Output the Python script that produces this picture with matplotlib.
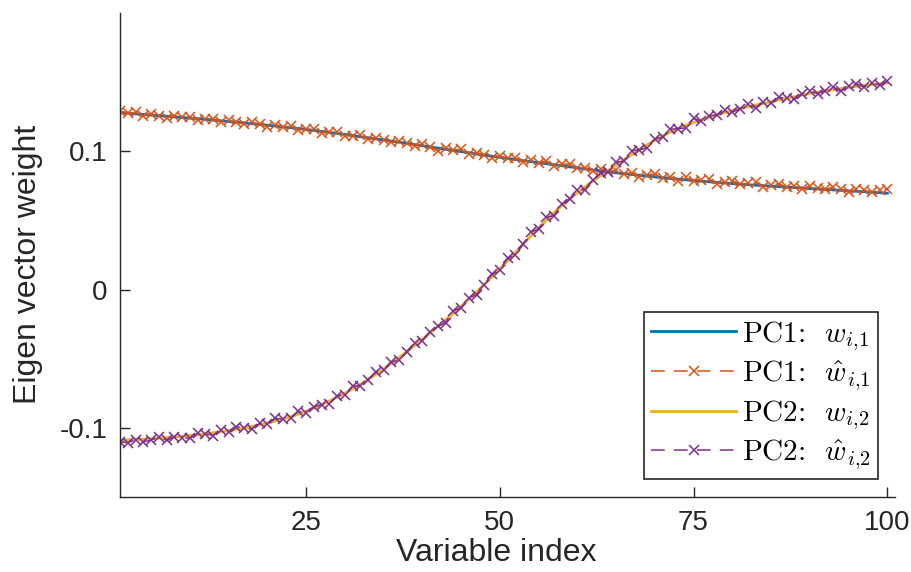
import matplotlib
matplotlib.use("Agg")
import matplotlib.pyplot as plt
import numpy as np

plt.rcParams['mathtext.fontset'] = 'cm'
plt.rcParams['font.family'] = ['Liberation Sans', 'DejaVu Sans']

# variable index 1..100
idx = list(range(1, 101))

# PC1 eigenvector weights (true)
pc1_w = [
    0.1280, 0.1276, 0.1271, 0.1267, 0.1262, 0.1258, 0.1254, 0.1249, 0.1245, 0.1240,
    0.1236, 0.1231, 0.1226, 0.1221, 0.1216, 0.1211, 0.1206, 0.1200, 0.1195, 0.1189,
    0.1183, 0.1177, 0.1171, 0.1165, 0.1158, 0.1151, 0.1144, 0.1137, 0.1130, 0.1122,
    0.1114, 0.1106, 0.1098, 0.1090, 0.1082, 0.1074, 0.1066, 0.1058, 0.1049, 0.1041,
    0.1032, 0.1024, 0.1015, 0.1007, 0.0998, 0.0990, 0.0981, 0.0973, 0.0965, 0.0957,
    0.0949, 0.0941, 0.0933, 0.0926, 0.0918, 0.0911, 0.0903, 0.0896, 0.0888, 0.0881,
    0.0873, 0.0866, 0.0859, 0.0852, 0.0845, 0.0839, 0.0833, 0.0827, 0.0821, 0.0815,
    0.0810, 0.0804, 0.0799, 0.0794, 0.0789, 0.0784, 0.0780, 0.0775, 0.0771, 0.0767,
    0.0763, 0.0759, 0.0755, 0.0752, 0.0748, 0.0745, 0.0741, 0.0738, 0.0735, 0.0731,
    0.0728, 0.0725, 0.0721, 0.0718, 0.0714, 0.0711, 0.0708, 0.0704, 0.0701, 0.0697,
]

# PC1 estimated weights
pc1_w_hat = [
    0.1290, 0.1276, 0.1281, 0.1257, 0.1272, 0.1258, 0.1244, 0.1259, 0.1245, 0.1250,
    0.1226, 0.1231, 0.1236, 0.1211, 0.1226, 0.1211, 0.1196, 0.1210, 0.1195, 0.1179,
    0.1193, 0.1177, 0.1181, 0.1155, 0.1158, 0.1161, 0.1134, 0.1137, 0.1140, 0.1112,
    0.1114, 0.1116, 0.1088, 0.1100, 0.1082, 0.1064, 0.1076, 0.1058, 0.1039, 0.1051,
    0.1032, 0.1004, 0.1025, 0.1007, 0.1018, 0.0980, 0.0991, 0.0973, 0.0955, 0.0967,
    0.0949, 0.0951, 0.0923, 0.0936, 0.0918, 0.0931, 0.0893, 0.0906, 0.0908, 0.0881,
    0.0883, 0.0856, 0.0869, 0.0852, 0.0865, 0.0839, 0.0843, 0.0817, 0.0831, 0.0835,
    0.0810, 0.0814, 0.0789, 0.0814, 0.0789, 0.0794, 0.0800, 0.0765, 0.0781, 0.0787,
    0.0763, 0.0769, 0.0775, 0.0742, 0.0758, 0.0765, 0.0741, 0.0748, 0.0725, 0.0751,
    0.0738, 0.0725, 0.0741, 0.0728, 0.0704, 0.0731, 0.0718, 0.0704, 0.0721, 0.0727,
]

# PC2 eigenvector weights (true)
pc2_w = [
    -0.1090, -0.1087, -0.1084, -0.1081, -0.1078, -0.1074, -0.1070, -0.1066, -0.1061, -0.1055,
    -0.1049, -0.1042, -0.1035, -0.1027, -0.1019, -0.1010, -0.1001, -0.0990, -0.0978, -0.0965,
    -0.0951, -0.0936, -0.0920, -0.0901, -0.0880, -0.0857, -0.0832, -0.0806, -0.0778, -0.0749,
    -0.0718, -0.0685, -0.0650, -0.0613, -0.0574, -0.0533, -0.0491, -0.0448, -0.0404, -0.0359,
    -0.0313, -0.0266, -0.0218, -0.0172, -0.0122, -0.0070, -0.0017, 0.0037, 0.0093, 0.0150,
    0.0208, 0.0268, 0.0328, 0.0388, 0.0446, 0.0502, 0.0556, 0.0607, 0.0655, 0.0700,
    0.0743, 0.0784, 0.0824, 0.0863, 0.0900, 0.0938, 0.0975, 0.1011, 0.1046, 0.1080,
    0.1111, 0.1139, 0.1165, 0.1188, 0.1209, 0.1228, 0.1246, 0.1263, 0.1279, 0.1294,
    0.1308, 0.1322, 0.1335, 0.1347, 0.1358, 0.1371, 0.1383, 0.1395, 0.1407, 0.1418,
    0.1428, 0.1437, 0.1446, 0.1454, 0.1462, 0.1469, 0.1476, 0.1483, 0.1489, 0.1495,
]

# PC2 estimated weights
pc2_w_hat = [
    -0.1100, -0.1107, -0.1084, -0.1101, -0.1088, -0.1064, -0.1090, -0.1066, -0.1071, -0.1075,
    -0.1039, -0.1042, -0.1055, -0.1017, -0.1029, -0.0990, -0.1001, -0.1010, -0.0968, -0.0975,
    -0.0931, -0.0936, -0.0930, -0.0881, -0.0890, -0.0847, -0.0832, -0.0826, -0.0768, -0.0759,
    -0.0698, -0.0695, -0.0650, -0.0593, -0.0584, -0.0523, -0.0511, -0.0448, -0.0384, -0.0369,
    -0.0303, -0.0266, -0.0238, -0.0152, -0.0132, -0.0060, -0.0037, 0.0037, 0.0113, 0.0140,
    0.0228, 0.0248, 0.0328, 0.0418, 0.0436, 0.0522, 0.0536, 0.0617, 0.0655, 0.0720,
    0.0723, 0.0794, 0.0844, 0.0853, 0.0920, 0.0928, 0.1005, 0.1011, 0.1026, 0.1090,
    0.1101, 0.1159, 0.1165, 0.1168, 0.1239, 0.1218, 0.1256, 0.1263, 0.1299, 0.1284,
    0.1308, 0.1342, 0.1315, 0.1357, 0.1348, 0.1391, 0.1383, 0.1375, 0.1417, 0.1438,
    0.1418, 0.1437, 0.1466, 0.1434, 0.1472, 0.1489, 0.1466, 0.1493, 0.1479, 0.1505,
]

# legend text: roman part in cmr10, symbols in mathtext (cm)
labels = [r'PC1:  $w_{i{,}1}$', r'PC1:  $\hat{w}_{i{,}1}$',
          r'PC2:  $w_{i{,}2}$', r'PC2:  $\hat{w}_{i{,}2}$']

c_blue = '#0072BD'
c_orange = '#D95319'
c_yellow = '#EDB120'
c_purple = '#7E2F8E'
axcol = '#262626'

fig = plt.figure(figsize=(9.12, 5.72), dpi=100)
ax = fig.add_axes([0.1316, 0.131, 0.8498, 0.8462])

ax.plot(idx, pc1_w, color=c_blue, linewidth=2.0, label=labels[0])
ax.plot(idx, pc1_w_hat, color=c_orange, linewidth=1.1, linestyle=(0, (9, 6)),
        marker='x', markersize=7, markeredgewidth=1.1, label=labels[1])
ax.plot(idx, pc2_w, color=c_yellow, linewidth=2.0, label=labels[2])
ax.plot(idx, pc2_w_hat, color=c_purple, linewidth=1.1, linestyle=(0, (9, 6)),
        marker='x', markersize=7, markeredgewidth=1.1, label=labels[3])

ax.set_xlim(1, 101)
ax.set_ylim(-0.15, 0.2)
ax.set_xticks([25, 50, 75, 100])
ax.set_yticks([-0.1, 0, 0.1])
ax.set_yticklabels(['-0.1', '0', '0.1'])

for side in ['top', 'right']:
    ax.spines[side].set_visible(False)
for side in ['left', 'bottom']:
    ax.spines[side].set_color(axcol)
    ax.spines[side].set_linewidth(1.0)
ax.tick_params(direction='in', length=7, width=1.0, colors=axcol,
               labelsize=20, pad=9)

ax.set_xlabel('Variable index', fontsize=23, color=axcol)
ax.set_ylabel('Eigen vector weight', fontsize=23, color=axcol)
ax.xaxis.set_label_coords(0.485, -0.085)
ax.yaxis.set_label_coords(-0.1, 0.48)

leg = ax.legend(loc='lower right', bbox_to_anchor=(0.978, 0.038),
                prop={'family': 'cmr10', 'size': 21},
                frameon=True, fancybox=False, framealpha=1,
                edgecolor=axcol, handlelength=2.9, handletextpad=0.2,
                labelspacing=0.2, borderpad=0.25, borderaxespad=0)
leg.get_frame().set_linewidth(1.2)

fig.savefig('out.png', dpi=100)
